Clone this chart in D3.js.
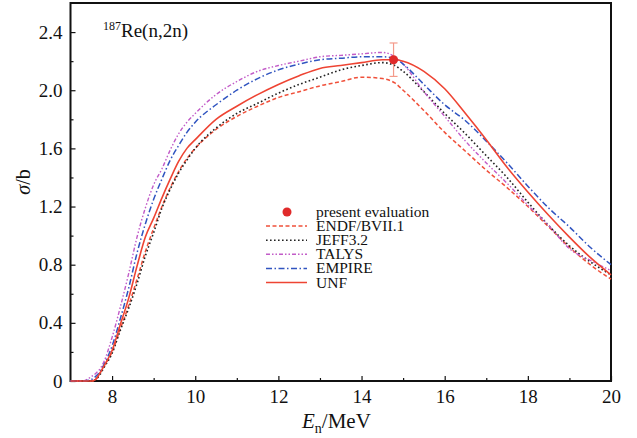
<!DOCTYPE html>
<html><head><meta charset="utf-8">
<script src="https://cdn.jsdelivr.net/npm/d3@7"></script>
<style>body{margin:0;background:#fff}svg{display:block}text{font-family:"Liberation Serif","Times New Roman",serif;fill:#111}</style>
</head><body><svg id="c" width="637" height="438"></svg>
<script>
const energies = [7,7.3,7.5,7.6,7.7,7.8,8.0,8.2,8.4,8.6,8.8,9.0,9.2,9.4,9.6,9.8,10,10.5,11,11.5,12,12.5,13,13.5,14,14.5,14.8,15,15.5,16,16.5,17,17.5,18,18.5,19,19.5,20];
const endf  = [0,0,0,0.01,0.05,0.10,0.20,0.36,0.52,0.70,0.89,1.05,1.20,1.33,1.44,1.53,1.60,1.73,1.82,1.89,1.95,1.99,2.03,2.06,2.09,2.08,2.05,2.00,1.86,1.71,1.58,1.45,1.33,1.20,1.06,0.92,0.80,0.70];
const jeff  = [0,0,0,0.01,0.04,0.09,0.19,0.35,0.50,0.67,0.86,1.02,1.19,1.32,1.43,1.52,1.60,1.74,1.84,1.91,1.98,2.04,2.09,2.14,2.17,2.19,2.17,2.13,1.99,1.84,1.70,1.55,1.40,1.23,1.07,0.93,0.82,0.73];
const talys = [0,0,0.03,0.05,0.08,0.13,0.30,0.51,0.74,0.99,1.19,1.35,1.46,1.59,1.70,1.78,1.84,1.97,2.06,2.13,2.17,2.20,2.23,2.24,2.25,2.26,2.23,2.18,1.99,1.82,1.65,1.50,1.36,1.21,1.07,0.91,0.83,0.76];
const empire= [0,0,0.01,0.03,0.06,0.11,0.24,0.43,0.64,0.88,1.08,1.25,1.39,1.52,1.62,1.71,1.78,1.90,2.00,2.08,2.14,2.18,2.21,2.22,2.23,2.23,2.22,2.18,2.04,1.90,1.79,1.65,1.50,1.34,1.19,1.06,0.92,0.80];
const unf   = [0,0,0,0.01,0.05,0.10,0.21,0.39,0.57,0.79,0.99,1.12,1.26,1.39,1.51,1.60,1.66,1.80,1.89,1.97,2.04,2.10,2.15,2.17,2.19,2.21,2.21,2.20,2.13,2.01,1.84,1.66,1.47,1.30,1.14,0.99,0.85,0.73];
const pointE = [14.77], pointS = [2.21], pointErr = [0.115];
const xTicks = [8,10,12,14,16,18,20], xMinor = [9,11,13,15,17,19];
const yTicks = [0,0.4,0.8,1.2,1.6,2.0,2.4], yMinor = [0.2,0.6,1.0,1.4,1.8,2.2];
const legendLabels = ["present evaluation","ENDF/BVII.1","JEFF3.2","TALYS","EMPIRE","UNF"];

const svg = d3.select("#c");
const L=70.5,R=611,T=3,B=381;
const x = d3.scaleLinear().domain([7,20]).range([L,R]);
const y = d3.scaleLinear().domain([0,2.6]).range([B,T]);

// axes (ticks inward)
const xa = svg.append("g").attr("transform",`translate(0,${B})`)
  .call(d3.axisBottom(x).tickValues(xTicks).tickSize(-5).tickPadding(9).tickFormat(d3.format("d")));
const xm = svg.append("g").attr("transform",`translate(0,${B})`)
  .call(d3.axisBottom(x).tickValues(xMinor).tickSize(-3).tickFormat(""));
const ya = svg.append("g").attr("transform",`translate(${L},0)`)
  .call(d3.axisLeft(y).tickValues(yTicks).tickSize(-5).tickPadding(8).tickFormat(d=>d===0?"0":d3.format(".1f")(d)));
const ym = svg.append("g").attr("transform",`translate(${L},0)`)
  .call(d3.axisLeft(y).tickValues(yMinor).tickSize(-3).tickFormat(""));
[xa,xm,ya,ym].forEach(a=>{a.select(".domain").remove();a.selectAll("line").attr("stroke","#111").attr("stroke-width",1.2);});
[xa,ya].forEach(a=>a.selectAll("text").style("font-size","19px").style("font-family","'Liberation Serif',serif").attr("fill","#111"));
xa.selectAll("text").attr("dy","0.71em");
svg.append("rect").attr("x",L).attr("y",T).attr("width",R-L).attr("height",B-T)
  .attr("fill","none").attr("stroke","#111").attr("stroke-width",2);

const series = [
  {v:endf,  c:"#f0503a", d:"4,2.5", w:1.5},
  {v:jeff,  c:"#222",    d:"1.6,2.4", w:1.6},
  {v:talys, c:"#c25cc8", d:"4,2,1.5,2,1.5,2", w:1.4},
  {v:empire,c:"#3054c0", d:"6,2.5,1.5,2.5", w:1.5},
  {v:unf,   c:"#ee4433", d:null, w:1.6}
];
const line = d3.line().x((d,i)=>x(energies[i])).y(d=>y(d)).curve(d3.curveMonotoneX);
const g = svg.append("g");
series.forEach(s=>{
  g.append("path").attr("d",line(s.v)).attr("fill","none").attr("stroke",s.c)
   .attr("stroke-width",s.w).attr("stroke-dasharray",s.d);
});
// data point
pointE.forEach((e,i)=>{
  const px=x(e), y1=y(pointS[i]+pointErr[i]), y2=y(pointS[i]-pointErr[i]);
  g.append("line").attr("x1",px).attr("x2",px).attr("y1",y1).attr("y2",y2).attr("stroke","#f49a8a").attr("stroke-width",1.2);
  [y1,y2].forEach(yy=>g.append("line").attr("x1",px-4).attr("x2",px+4).attr("y1",yy).attr("y2",yy).attr("stroke","#f49a8a").attr("stroke-width",1.2));
  g.append("circle").attr("cx",px).attr("cy",y(pointS[i])).attr("r",4.5).attr("fill","#e02a2a");
});

// titles
const tt = svg.append("text").attr("x",103).attr("y",37).style("font-size","19px");
tt.append("tspan").text("187").style("font-size","12px").attr("dy","-7");
tt.append("tspan").text("Re(n,2n)").attr("dy","7");
svg.append("text").attr("transform","translate(30,182) rotate(-90)").attr("text-anchor","middle").style("font-size","20px")
  .html('<tspan font-style="italic">σ</tspan>/b');
const xt = svg.append("text").attr("x",302).attr("y",428).style("font-size","21px");
xt.append("tspan").text("E").attr("font-style","italic");
xt.append("tspan").text("n").style("font-size","14px").attr("dy","5");
xt.append("tspan").text("/MeV").attr("dy","-5");

// legend
const ly0=212, lh=14.1;
const lg = svg.append("g");
lg.append("circle").attr("cx",287).attr("cy",ly0).attr("r",4.5).attr("fill","#e02a2a");
series.forEach((s,i)=>{
  const yy=ly0+(i+1)*lh;
  lg.append("line").attr("x1",266).attr("x2",307).attr("y1",yy).attr("y2",yy).attr("stroke",s.c)
    .attr("stroke-width",s.w).attr("stroke-dasharray",s.d);
});
legendLabels.forEach((t,i)=>{
  lg.append("text").attr("x",316).attr("y",ly0+i*lh+5).style("font-size","15.5px").text(t);
});
</script></body></html>
